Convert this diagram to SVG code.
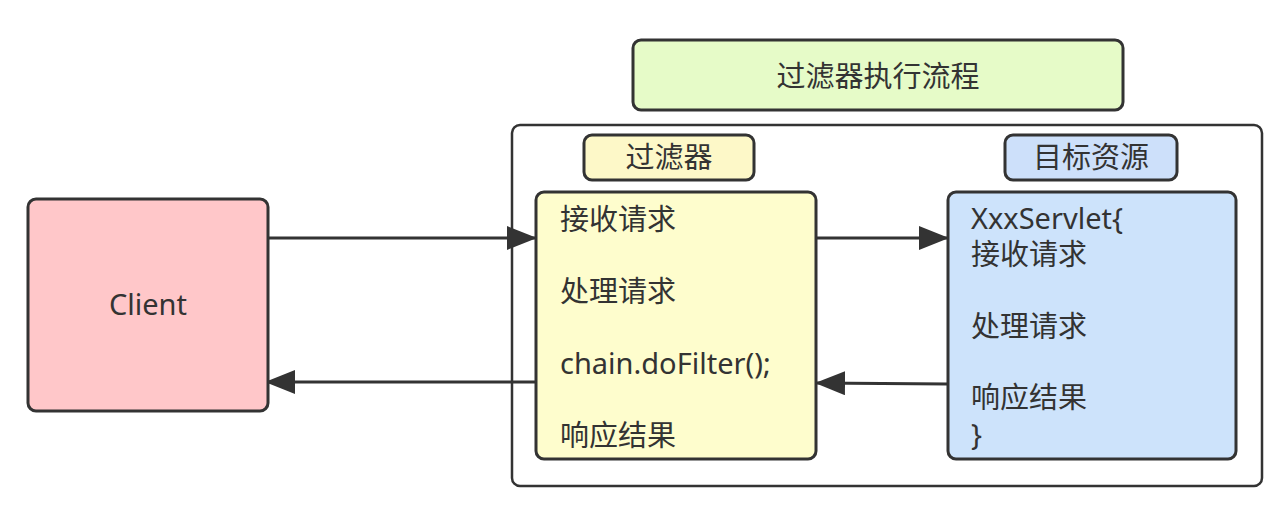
<svg xmlns="http://www.w3.org/2000/svg" width="1277" height="520" viewBox="0 0 1277 520">
<style>
.box{stroke:#333;stroke-width:3}
.t{font-family:"Noto Sans","Noto Sans CJK SC",sans-serif;font-size:29px;fill:#333}
.c{text-anchor:middle}
.ln{stroke:#333;stroke-width:3;fill:none}
</style>
<defs>
<marker id="ah" markerWidth="30" markerHeight="24" refX="29" refY="12" orient="auto" markerUnits="userSpaceOnUse">
<path d="M0,0 L30,12 L0,24 Z" fill="#333"/>
</marker>
</defs>
<rect width="1277" height="520" fill="#fff"/>
<g id="container">
<rect x="512" y="125" width="750" height="361" rx="8" fill="#fff" stroke="#333" stroke-width="2.5"/>
</g>
<g id="connectors">
<line class="ln" x1="268" y1="238" x2="536" y2="238" marker-end="url(#ah)"/>
<line class="ln" x1="536" y1="382" x2="266" y2="382" marker-end="url(#ah)"/>
<line class="ln" x1="816" y1="238" x2="948" y2="238" marker-end="url(#ah)"/>
<line class="ln" x1="948" y1="384" x2="816" y2="383" marker-end="url(#ah)"/>
</g>
<g id="title">
<rect class="box" x="633" y="40" width="490" height="70" rx="8" fill="#e6fbc8"/>
<text class="t c" x="878" y="87">过滤器执行流程</text>
</g>
<g id="client">
<rect class="box" x="28" y="199" width="240" height="212" rx="8" fill="#ffc7c9"/>
<text class="t c" x="148" y="315">Client</text>
</g>
<g id="filter-label">
<rect class="box" x="584" y="135" width="170" height="45" rx="8" fill="#fdf8c8"/>
<text class="t c" x="669" y="168">过滤器</text>
</g>
<g id="target-label">
<rect class="box" x="1005" y="135" width="172" height="45" rx="8" fill="#cde0fa"/>
<text class="t c" x="1091" y="168">目标资源</text>
</g>
<g id="filter">
<rect class="box" x="536" y="192" width="280" height="267" rx="8" fill="#fefdcd"/>
<text class="t" x="560" y="230">接收请求</text>
<text class="t" x="560" y="302">处理请求</text>
<text class="t" x="560" y="374">chain.doFilter();</text>
<text class="t" x="560" y="446">响应结果</text>
</g>
<g id="target">
<rect class="box" x="948" y="192" width="288" height="267" rx="8" fill="#cde3fb"/>
<text class="t" x="971" y="229">XxxServlet{</text>
<text class="t" x="971" y="265">接收请求</text>
<text class="t" x="971" y="337">处理请求</text>
<text class="t" x="971" y="408">响应结果</text>
<text class="t" x="971" y="445">}</text>
</g>
</svg>
